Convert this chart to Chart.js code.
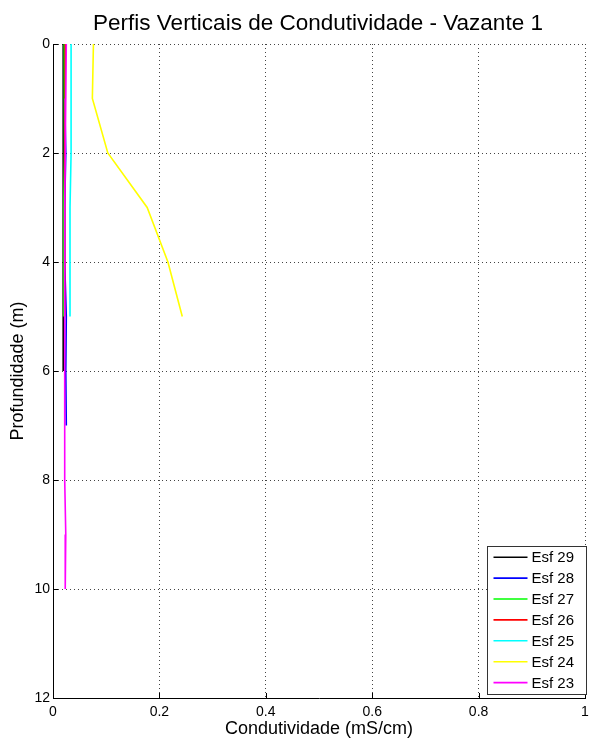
<!DOCTYPE html>
<html>
<head>
<meta charset="utf-8">
<script src="https://cdn.jsdelivr.net/npm/chart.js@4.4.0/dist/chart.umd.min.js"></script>
<style>
  html, body { margin: 0; padding: 0; background: #fff; }
  #wrap { width: 590px; height: 740px; }
</style>
</head>
<body>
<div id="wrap"><canvas id="myChart" width="590" height="740"></canvas></div>
<script>
'use strict';

// ***** DATA *****
const chartTitle = 'Perfis Verticais de Condutividade - Vazante 1';
const seriesNames = ['Esf 29', 'Esf 28', 'Esf 27', 'Esf 26', 'Esf 25', 'Esf 24', 'Esf 23'];
const seriesColors = ['#000000', '#0000ff', '#00ff00', '#ff0000', '#00ffff', '#ffff00', '#ff00ff'];

// depth (m) per profile
const depth29 = [0, 1, 2, 3, 4, 5, 6];
const depth28 = [0, 1, 2, 3, 4, 5, 6, 7];
const depth27 = [0, 1, 2, 3, 4, 5];
const depth26 = [0, 1, 2, 3, 4, 5];
const depth25 = [0, 1, 2, 3, 4, 5];
const depth24 = [0, 1, 2, 3, 4, 5];
const depth23 = [0, 1, 2, 3, 4, 5, 6, 7, 8, 9, 10];

// conductivity (mS/cm) per profile
const cond29 = [0.020, 0.020, 0.019, 0.019, 0.019, 0.019, 0.019];
const cond28 = [0.022, 0.022, 0.024, 0.022, 0.022, 0.025, 0.024, 0.025];
const cond27 = [0.021, 0.022, 0.021, 0.020, 0.020, 0.020];
const cond26 = [0.023, 0.023, 0.022, 0.022, 0.022, 0.022];
const cond25 = [0.034, 0.034, 0.034, 0.032, 0.032, 0.032];
const cond24 = [0.076, 0.074, 0.103, 0.177, 0.216, 0.243];
const cond23 = [0.025, 0.024, 0.023, 0.022, 0.022, 0.022, 0.022, 0.022, 0.022, 0.024, 0.023];

const xTicks = [0, 0.2, 0.4, 0.6, 0.8, 1];
const yTicks = [0, 2, 4, 6, 8, 10, 12];

const allDepths = [depth29, depth28, depth27, depth26, depth25, depth24, depth23];
const allConds = [cond29, cond28, cond27, cond26, cond25, cond24, cond23];

const FONT = 'Arial, "Liberation Sans", Helvetica, sans-serif';

// build datasets - last profile (Esf 23) first so it is drawn on top
let datasets = [];
for (let i = seriesNames.length - 1; i >= 0; i--) {
  let pts = allDepths[i].map((d, j) => ({ x: allConds[i][j], y: d }));
  datasets.push({
    label: seriesNames[i],
    data: pts,
    borderColor: seriesColors[i],
    backgroundColor: seriesColors[i],
    borderWidth: 1.6,
    pointRadius: 0,
    showLine: true,
    tension: 0
  });
}

// title centred over the axes (not the whole canvas)
const axesTitle = {
  id: 'axesTitle',
  afterDraw(chart) {
    const c = chart.ctx;
    const a = chart.chartArea;
    c.save();
    c.fillStyle = '#000';
    c.font = '22.5px ' + FONT;
    c.textAlign = 'center';
    c.textBaseline = 'middle';
    c.fillText(chartTitle, (a.left + a.right) / 2 - 1, 24);
    c.restore();
  }
};

// inward tick marks like matlab
const innerTicks = {
  id: 'innerTicks',
  afterDatasetsDraw(chart) {
    const c = chart.ctx;
    const a = chart.chartArea;
    const xs = chart.scales.x;
    const ys = chart.scales.y;
    c.save();
    c.strokeStyle = '#000';
    c.lineWidth = 1;
    c.beginPath();
    xTicks.forEach(v => {
      let px = Math.round(xs.getPixelForValue(v)) + 0.5;
      c.moveTo(px, a.bottom);
      c.lineTo(px, a.bottom - 5);
    });
    yTicks.forEach(v => {
      let py = Math.round(ys.getPixelForValue(v)) + 0.5;
      c.moveTo(a.left, py);
      c.lineTo(a.left + 5, py);
    });
    c.stroke();
    c.restore();
  }
};

// legend box in the lower right corner of the axes
const boxLegend = {
  id: 'boxLegend',
  afterDraw(chart) {
    const c = chart.ctx;
    const a = chart.chartArea;
    const w = 99, h = 148;
    const x0 = Math.round(a.right - w + 1) + 0.5;
    const y0 = Math.round(a.bottom - 152) + 0.5;
    c.save();
    c.fillStyle = '#fff';
    c.fillRect(x0, y0, w, h);
    c.strokeStyle = '#333';
    c.lineWidth = 1;
    c.strokeRect(x0, y0, w, h);
    c.font = '15px ' + FONT;
    c.textBaseline = 'middle';
    c.textAlign = 'left';
    for (let i = 0; i < seriesNames.length; i++) {
      let yy = y0 + 10.7 + i * 20.9;
      c.strokeStyle = seriesColors[i];
      c.lineWidth = 1.6;
      c.beginPath();
      c.moveTo(x0 + 6, yy);
      c.lineTo(x0 + 40, yy);
      c.stroke();
      c.fillStyle = '#000';
      c.fillText(seriesNames[i], x0 + 44, yy + 1);
    }
    c.restore();
  }
};

const ctx = document.getElementById('myChart').getContext('2d');

const chartObj = {
  type: 'scatter',
  data: { datasets: datasets },
  options: {
    responsive: false,
    animation: false,
    layout: { padding: { left: 0, right: 5, top: 44, bottom: 0 } },
    plugins: {
      legend: { display: false },
      tooltip: { enabled: false },
      title: { display: false }
    },
    scales: {
      x: {
        type: 'linear',
        min: 0,
        max: 1,
        afterFit(scale) {
          scale.height = 42;
          scale.paddingLeft = 0;
          scale.paddingRight = 0;
        },
        afterBuildTicks(scale) {
          scale.ticks = xTicks.map(v => ({ value: v }));
        },
        ticks: {
          color: '#000',
          font: { family: FONT, size: 14 },
          padding: 6,
          maxRotation: 0,
          callback: v => String(Number(v.toFixed(1)))
        },
        grid: { color: '#444', drawTicks: false, lineWidth: 1 },
        border: { display: true, color: '#000', width: 1, dash: [1, 3] },
        title: {
          display: true,
          text: 'Condutividade (mS/cm)',
          color: '#000',
          font: { family: FONT, size: 18 },
          padding: { top: 0, bottom: 0 }
        }
      },
      y: {
        type: 'linear',
        reverse: true,
        min: 0,
        max: 12,
        afterFit(scale) {
          scale.width = 53;
          scale.paddingTop = 0;
          scale.paddingBottom = 0;
        },
        afterBuildTicks(scale) {
          scale.ticks = yTicks.map(v => ({ value: v }));
        },
        ticks: {
          color: '#000',
          font: { family: FONT, size: 14 },
          padding: 3
        },
        grid: { color: '#444', drawTicks: false, lineWidth: 1 },
        border: { display: true, color: '#000', width: 1, dash: [1, 3] },
        title: {
          display: true,
          text: 'Profundidade (m)',
          color: '#000',
          font: { family: FONT, size: 18 },
          padding: { top: 7, bottom: 0 }
        }
      }
    }
  },
  plugins: [axesTitle, innerTicks, boxLegend]
};

const myChart = new Chart(ctx, chartObj); // eslint-disable-line
</script>
</body>
</html>
